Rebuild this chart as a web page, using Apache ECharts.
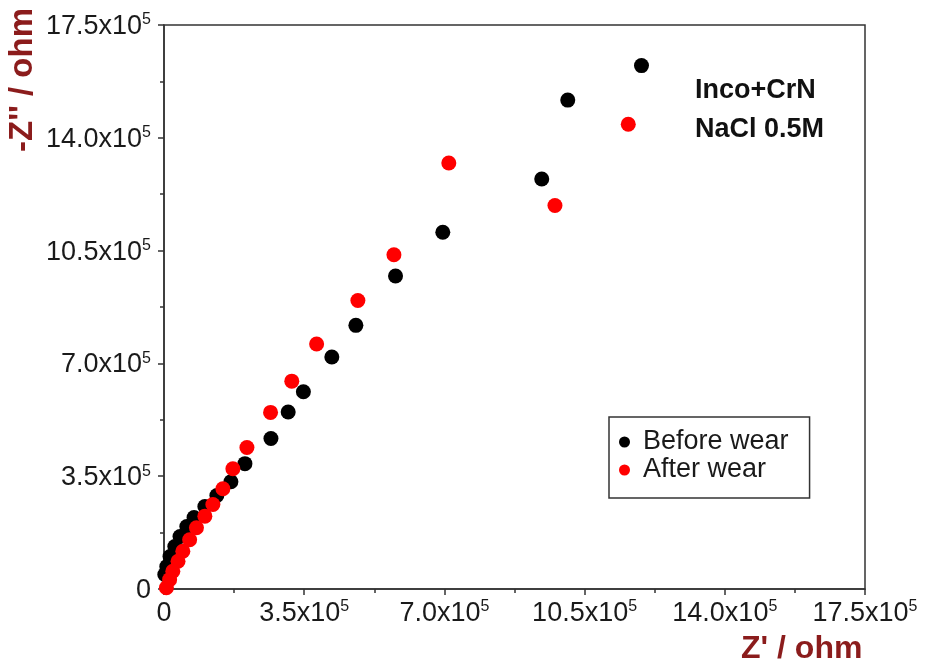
<!DOCTYPE html>
<html>
<head>
<meta charset="utf-8">
<script src="https://cdn.jsdelivr.net/npm/echarts@6/dist/echarts.min.js"></script>
<style>
  html, body { margin: 0; padding: 0; background: #fff; }
  #chart { width: 927px; height: 664px; }
</style>
</head>
<body>
<div id="chart"></div>
<script>
// Nyquist data, Z' and -Z'' in units of 1e5 ohm
const beforeZre = [0.02, 0.07, 0.15, 0.27, 0.40, 0.57, 0.75, 1.02, 1.32, 1.67, 2.02, 2.67, 3.10, 3.48, 4.19, 4.79, 5.78, 6.96, 9.43, 10.08, 11.92];
const beforeZim = [0.45, 0.70, 1.01, 1.32, 1.63, 1.94, 2.22, 2.56, 2.90, 3.33, 3.89, 4.67, 5.49, 6.12, 7.20, 8.18, 9.71, 11.07, 12.72, 15.17, 16.24];

const afterZre = [0.06, 0.14, 0.22, 0.35, 0.47, 0.64, 0.81, 1.02, 1.22, 1.47, 1.72, 2.07, 2.66, 3.19, 3.81, 4.84, 5.74, 7.11, 9.76, 11.59];
const afterZim = [0.04, 0.29, 0.55, 0.86, 1.17, 1.53, 1.90, 2.26, 2.62, 3.11, 3.73, 4.39, 5.48, 6.45, 7.60, 8.95, 10.37, 13.22, 11.90, 14.42];

const seriesNames = ['Before wear', 'After wear'];
const seriesColors = ['#000000', '#ff0000'];
const annotation = ['Inco+CrN', 'NaCl 0.5M'];
const xTitle = "Z' / ohm";
const yTitle = "-Z'' / ohm";

const axisMin = 0, axisMax = 17.5, axisStep = 3.5;

const FONT = '"Liberation Sans", Arial, Helvetica, sans-serif';
const TITLE_RED = '#8b1c1c';
const INK = '#1a1a1a';

const pair = (xs, ys) => xs.map((x, i) => [x, ys[i]]);

// "3.5x10^5" style tick labels with a raised exponent
const tickFmt = v => v === 0 ? '{b|0}' : '{b|' + v.toFixed(1) + 'x10}{s|5}';
const labelRich = {
  b: { fontSize: 27, fontFamily: FONT, color: INK, lineHeight: 30, verticalAlign: 'bottom' },
  s: { fontSize: 16, fontFamily: FONT, color: INK, lineHeight: 30, verticalAlign: 'top', padding: [2, 0, 0, 0] }
};

const axisCommon = {
  type: 'value',
  min: axisMin,
  max: axisMax,
  interval: axisStep,
  splitLine: { show: false },
  axisLine: { show: true, onZero: false, lineStyle: { color: '#333', width: 1.5 } },
  axisTick: { show: true, inside: false, length: 6, lineStyle: { color: '#333', width: 1.5 } },
  minorTick: { show: true, splitNumber: 2, length: 4, lineStyle: { color: '#333', width: 1.5 } },
  axisLabel: { formatter: tickFmt, rich: labelRich }
};

const chart = echarts.init(document.getElementById('chart'), null, { renderer: 'canvas' });
chart.setOption({
  animation: false,
  backgroundColor: '#fff',
  grid: {
    left: 164, top: 25, right: 62, bottom: 75,
    show: true, borderColor: '#333', borderWidth: 1.5, backgroundColor: 'transparent'
  },
  xAxis: Object.assign({}, axisCommon, {
    axisLabel: Object.assign({}, axisCommon.axisLabel, { margin: 8 })
  }),
  yAxis: Object.assign({}, axisCommon, {
    axisLabel: Object.assign({}, axisCommon.axisLabel, { margin: 13 })
  }),
  legend: {
    orient: 'vertical',
    left: 609, top: 417,
    data: seriesNames,
    icon: 'circle',
    itemWidth: 11, itemHeight: 11,
    itemGap: 0,
    padding: [11, 21, 14, 10],
    borderColor: '#333', borderWidth: 1.5,
    textStyle: { fontSize: 27, lineHeight: 28, color: INK, fontFamily: FONT, padding: [0, 0, 0, 8] }
  },
  graphic: [
    {
      type: 'text', left: 695, top: 77,
      style: { text: annotation[0], font: 'bold 27px ' + FONT, fill: '#111' }
    },
    {
      type: 'text', left: 695, top: 116,
      style: { text: annotation[1], font: 'bold 27px ' + FONT, fill: '#111' }
    },
    {
      type: 'text', left: 741, top: 633,
      style: { text: xTitle, font: 'bold 32px ' + FONT, fill: TITLE_RED }
    },
    {
      type: 'text', left: 6, top: 8, rotation: Math.PI / 2,
      style: { text: yTitle, font: 'bold 33px ' + FONT, fill: TITLE_RED }
    }
  ],
  series: [
    {
      name: seriesNames[0], type: 'scatter', symbol: 'circle', symbolSize: 15,
      itemStyle: { color: seriesColors[0], opacity: 1 },
      data: pair(beforeZre, beforeZim), z: 2
    },
    {
      name: seriesNames[1], type: 'scatter', symbol: 'circle', symbolSize: 15,
      itemStyle: { color: seriesColors[1], opacity: 1 },
      data: pair(afterZre, afterZim), z: 3
    }
  ]
});
</script>
</body>
</html>
